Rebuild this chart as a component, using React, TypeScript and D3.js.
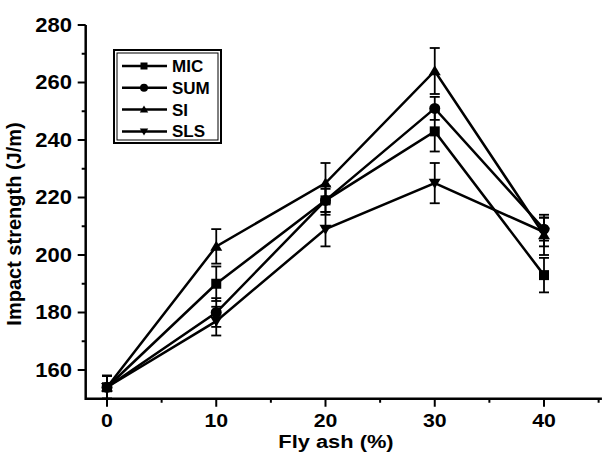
import React from "react";
import * as d3 from "d3";

const xValues = [0, 10, 20, 30, 40];
const seriesNames = ["MIC", "SUM", "SI", "SLS"];
const micValues = [154, 190, 219, 243, 193];
const sumValues = [154, 180, 219, 251, 209];
const siValues = [154, 203, 225, 264, 207];
const slsValues = [154, 177, 209, 225, 208];
const micErr = [4, 6, 5, 7, 6];
const sumErr = [4, 5, 4, 4, 4];
const siErr = [4, 6, 7, 8, 7];
const slsErr = [4, 5, 6, 7, 5];
const xTicks = [0, 5, 10, 15, 20, 25, 30, 35, 40, 45];
const yTicks = [160, 170, 180, 190, 200, 210, 220, 230, 240, 250, 260, 270, 280];
const markers = ["square", "circle", "triangleUp", "triangleDown"];

const W = 602;
const H = 454;
const FONT = "'Liberation Sans', Arial, sans-serif";

function Marker({ type, cx, cy, s }: { type: string; cx: number; cy: number; s: number }) {
  if (type === "square") return <rect x={cx - s / 2} y={cy - s / 2} width={s} height={s} fill="#000" />;
  if (type === "circle") return <circle cx={cx} cy={cy} r={s / 2 + 0.5} fill="#000" />;
  const h = s * 0.95;
  if (type === "triangleUp")
    return <path d={`M${cx},${cy - h * 0.6}L${cx + s * 0.6},${cy + h * 0.45}L${cx - s * 0.6},${cy + h * 0.45}Z`} fill="#000" />;
  return <path d={`M${cx},${cy + h * 0.6}L${cx + s * 0.6},${cy - h * 0.45}L${cx - s * 0.6},${cy - h * 0.45}Z`} fill="#000" />;
}

export default function App() {
  const x = d3.scaleLinear().domain([0, 40]).range([107, 544]);
  const y = d3.scaleLinear().domain([160, 280]).range([370, 25]);
  const xMin = -1.95, xMax = 45.3, yMin = 150, yMax = 280;
  const values = [micValues, sumValues, siValues, slsValues];
  const errs = [micErr, sumErr, siErr, slsErr];
  const line = d3.line<number>().x((_, i) => x(xValues[i])).y((v) => y(v));

  return (
    <svg width={W} height={H} style={{ position: "absolute", left: 0, top: 0, background: "#fff" }}>
      {/* axes */}
      <line x1={x(xMin)} x2={x(xMax)} y1={y(yMin)} y2={y(yMin)} stroke="#000" strokeWidth={2.5} />
      <line x1={x(xMin)} x2={x(xMin)} y1={y(yMin) + 1.25} y2={y(yMax)} stroke="#000" strokeWidth={2.5} />
      {xTicks.map((t) => {
        const major = t % 10 === 0;
        return (
          <g key={"xt" + t}>
            <line x1={x(t)} x2={x(t)} y1={y(yMin)} y2={y(yMin) + (major ? 8 : 4)} stroke="#000" strokeWidth={2} />
            {major && (
              <text x={x(t)} y={427} textAnchor="middle" fontFamily={FONT} fontWeight="bold" fontSize={19}
                transform={`translate(${x(t)},0) scale(1.12,1) translate(${-x(t)},0)`}>
                {t}
              </text>
            )}
          </g>
        );
      })}
      {yTicks.map((t) => {
        const major = t % 20 === 0;
        return (
          <g key={"yt" + t}>
            <line x1={x(xMin)} x2={x(xMin) - (major ? 8 : 4)} y1={y(t)} y2={y(t)} stroke="#000" strokeWidth={2} />
            {major && (
              <text x={72} y={y(t) + 7} textAnchor="end" fontFamily={FONT} fontWeight="bold" fontSize={20}
                transform={`translate(72,0) scale(1.1,1) translate(-72,0)`}>
                {t}
              </text>
            )}
          </g>
        );
      })}
      <text
        transform={`translate(21,${224}) rotate(-90)`}
        textAnchor="middle"
        fontFamily={FONT}
        fontWeight="bold"
        fontSize={20}
      >
        Impact strength (J/m)
      </text>
      <text x={336} y={448} textAnchor="middle" fontFamily={FONT} fontWeight="bold" fontSize={19}
        transform={`translate(336,0) scale(1.15,1) translate(-336,0)`}>
        Fly ash (%)
      </text>

      {/* lines */}
      {values.map((vals, si) => (
        <path key={"l" + si} d={line(vals) || ""} fill="none" stroke="#000" strokeWidth={2.5} />
      ))}
      {/* error bars */}
      {values.map((vals, si) =>
        vals.map((v, i) => {
          const cx = x(xValues[i]);
          const e = errs[si][i];
          return (
            <g key={`e${si}-${i}`} stroke="#000" strokeWidth={1.8}>
              <line x1={cx} x2={cx} y1={y(v - e)} y2={y(v + e)} />
              <line x1={cx - 5} x2={cx + 5} y1={y(v - e)} y2={y(v - e)} />
              <line x1={cx - 5} x2={cx + 5} y1={y(v + e)} y2={y(v + e)} />
            </g>
          );
        })
      )}
      {/* markers */}
      {values.map((vals, si) =>
        vals.map((v, i) => <Marker key={`m${si}-${i}`} type={markers[si]} cx={x(xValues[i])} cy={y(v)} s={10} />)
      )}

      {/* legend */}
      <rect x={114} y={50} width={107} height={93} fill="#fff" stroke="#000" strokeWidth={2} />
      <rect x={117} y={53} width={101} height={87} fill="none" stroke="#000" strokeWidth={1} />
      {seriesNames.map((name, i) => {
        const ly = 66 + i * 21.8;
        return (
          <g key={"lg" + i}>
            <line x1={122} x2={167} y1={ly} y2={ly} stroke="#000" strokeWidth={2.5} />
            <Marker type={markers[i]} cx={144} cy={ly} s={7} />
            <text x={172} y={ly + 6} fontFamily={FONT} fontWeight="bold" fontSize={17}>
              {name}
            </text>
          </g>
        );
      })}
    </svg>
  );
}
